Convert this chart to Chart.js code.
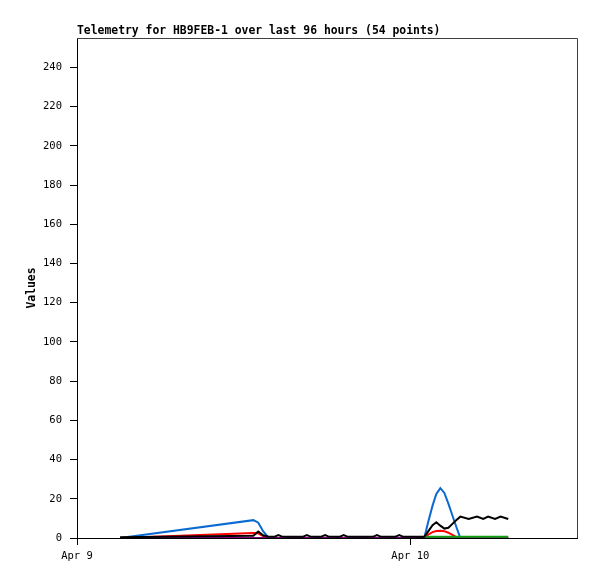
<!DOCTYPE html>
<html>
<head>
<meta charset="utf-8">
<title>Telemetry HB9FEB-1</title>
<script src="https://cdn.jsdelivr.net/npm/chart.js@4.4.1/dist/chart.umd.min.js"></script>
<style>
  body { margin: 0; background: #ffffff; }
  canvas { display: block; }
</style>
</head>
<body>
<canvas id="chart" width="597" height="579"></canvas>
<script>
// hours since Apr 9 00:00 for each sample
const hours = [
  3.1, 12.7, 13.05, 13.4, 13.8, 14.2, 14.5, 14.8, 16.25, 16.55,
  16.85, 17.55, 17.87, 18.15, 18.9, 19.2, 19.5, 21.3, 21.6, 21.9,
  22.9, 23.2, 23.5, 25.0, 25.3, 25.6, 25.87, 26.16, 26.45, 26.74,
  27.03, 27.32, 27.6, 28.2, 28.8, 29.25, 29.6, 30.1, 30.5, 31.05
]

const blueValues = [
  0, 9.1, 7.8, 3.5, 0, 0, 0, 0, 0, 0,
  0, 0, 0, 0, 0, 0, 0, 0, 0, 0,
  0, 0, 0, 0, 8.5, 16.5, 22.5, 25.4, 23, 17.5,
  11.5, 5.5, 0, 0, 0, 0, 0, 0, 0, 0
]
const redValues = [
  0, 2.5, 2.4, 1.0, 0, 0, 0, 0, 0, 0,
  0, 0, 0, 0, 0, 0, 0, 0, 0, 0,
  0, 0, 0, 0, 1.8, 3.0, 3.6, 3.7, 3.5, 2.7,
  1.6, 0.5, 0, 0, 0, 0, 0, 0, 0, 0
]
const blackValues = [
  0.4, 1.2, 3.3, 1.4, 0.6, 0.6, 1.5, 0.6, 0.6, 1.5,
  0.6, 0.6, 1.5, 0.6, 0.6, 1.5, 0.6, 0.6, 1.5, 0.6,
  0.6, 1.5, 0.6, 0.6, 3.5, 6.5, 8.0, 6.3, 4.8, 5.2,
  7.2, 9.2, 10.9, 9.7, 10.9, 9.7, 10.9, 9.7, 10.9, 9.7
]
const greenValues = [
  null, null, null, null, null, null, null, null, null, null,
  null, null, null, null, null, null, null, null, null, null,
  null, null, null, 0.6, 0.6, 0.6, 0.6, 0.6, 0.6, 0.6,
  0.6, 0.6, 0.6, 0.6, 0.6, 0.6, 0.6, 0.6, 0.6, 0.6
]
const purpleValues = [
  0, 0, 0, 0, 0, 0, 0, 0, 0, 0,
  0, 0, 0, 0, 0, 0, 0, 0, 0, 0,
  0, 0, 0, 0, 0, 0, 0, 0, 0, 0,
  0, 0, 0, 0, 0, 0, 0, 0, 0, 0
]

const xTickHours = [0, 24]
const xTickLabels = ['Apr 9', 'Apr 10']
const yTicks = [0, 20, 40, 60, 80, 100, 120, 140, 160, 180, 200, 220, 240]

const toPoints = vals => hours.map((h, i) => ({x: h, y: vals[i]}))

const mono = "'DejaVu Sans Mono', monospace"

// gray top and right edges of the plot frame
const frameEdges = {
  id: 'frameEdges',
  afterDraw: (chart) => {
    const {ctx, chartArea} = chart
    ctx.save()
    ctx.strokeStyle = '#404040'
    ctx.lineWidth = 1
    ctx.beginPath()
    ctx.moveTo(chartArea.left, chartArea.top + 0.5)
    ctx.lineTo(chartArea.right + 0.5, chartArea.top + 0.5)
    ctx.lineTo(chartArea.right + 0.5, chartArea.bottom)
    ctx.stroke()
    ctx.restore()
  }
}

const line = (vals, color, order) => ({
  data: toPoints(vals),
  borderColor: color,
  backgroundColor: color,
  borderWidth: 2,
  pointRadius: 0,
  tension: 0,
  fill: false,
  order: order
})

new Chart(document.getElementById('chart').getContext('2d'), {
  type: 'line',
  data: {
    datasets: [
      line(blackValues, '#000000', 0),
      line(greenValues, '#10a010', 1),
      line(purpleValues, '#800080', 2),
      line(redValues, '#ff0000', 3),
      line(blueValues, '#0a6ad2', 4)
    ]
  },
  options: {
    responsive: false,
    animation: false,
    layout: {padding: {left: 0, right: 20, top: 0, bottom: 0}},
    plugins: {
      legend: {display: false},
      tooltip: {enabled: false},
      title: {
        display: true,
        text: 'Telemetry for HB9FEB-1 over last 96 hours (54 points)',
        align: 'start',
        fullSize: false,
        color: '#000',
        font: {family: mono, size: 11.4, weight: 'bold', lineHeight: 13 / 11.4},
        padding: {top: 25, bottom: 0}
      }
    },
    scales: {
      x: {
        type: 'linear',
        min: 0,
        max: 36,
        afterBuildTicks: (scale) => { scale.ticks = xTickHours.map(v => ({value: v})) },
        afterFit: (scale) => { scale.height = 41 },
        ticks: {
          color: '#000',
          font: {family: mono, size: 10.5},
          padding: 5,
          maxRotation: 0,
          autoSkip: false,
          callback: (value) => xTickLabels[xTickHours.indexOf(value)]
        },
        grid: {drawOnChartArea: false, drawTicks: true, tickLength: 7, color: '#000'},
        border: {display: true, color: '#000'}
      },
      y: {
        type: 'linear',
        min: 0,
        max: 255,
        afterBuildTicks: (scale) => { scale.ticks = yTicks.map(v => ({value: v})) },
        afterFit: (scale) => { scale.width = 77 },
        title: {
          display: true,
          text: 'Values',
          color: '#000',
          font: {family: mono, size: 11.4, weight: 'bold', lineHeight: 14 / 11.4},
          padding: {top: 25, bottom: 0}
        },
        ticks: {
          color: '#000',
          font: {family: mono, size: 10.5},
          padding: 8
        },
        grid: {drawOnChartArea: false, drawTicks: true, tickLength: 7, color: '#000'},
        border: {display: true, color: '#000'}
      }
    }
  },
  plugins: [frameEdges]
})
</script>
</body>
</html>
